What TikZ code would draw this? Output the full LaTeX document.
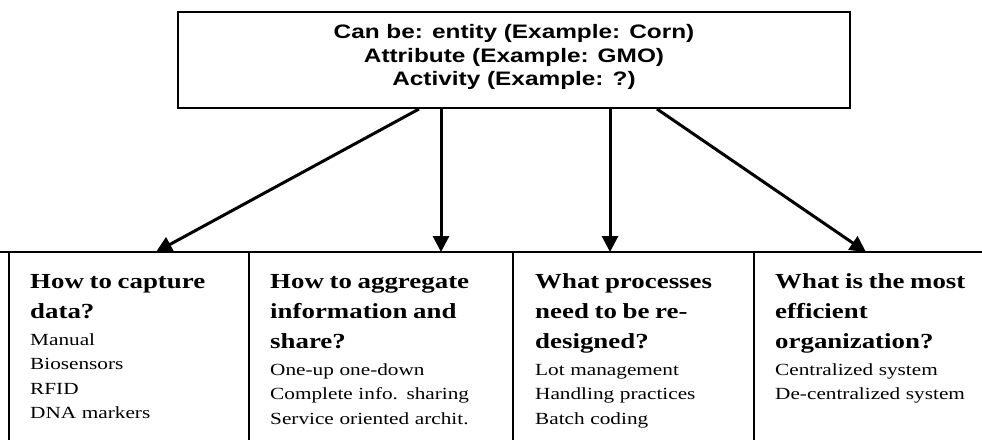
\documentclass[tikz,border=0pt]{standalone}
\usepackage{fontspec}
\setmainfont{Liberation Serif}[FakeStretch=1.25]
\newfontfamily\arialfont{Liberation Sans}[FakeStretch=1.25]
\usetikzlibrary{arrows.meta}

\newcommand{\colhead}[1]{{\bfseries\fontsize{21.5}{30}\selectfont #1\par}\vspace{2.5pt}}

\begin{document}
\begin{tikzpicture}[x=1pt,y=-1pt,>={Triangle[length=16pt,width=16pt]},
        top node/.style={draw,line width=2pt,minimum width=672pt,minimum height=96pt,align=center,
            text depth=10pt,font=\arialfont\bfseries\fontsize{19.5}{23.5}\selectfont},
        col node/.style={anchor=base west,inner sep=0pt,text width=230pt,align=left,
            font=\fontsize{17}{24.5}\selectfont}]

    \useasboundingbox (0,0) rectangle (982,439);

    \node[top node] (top) at (514,60) {Can be: entity (Example: Corn)\\ Attribute (Example: GMO)\\ Activity (Example: ?)};

    % table of the four questions
    \draw[line width=2.5pt] (0,252) -- (982,252);
    \foreach \x in {9,249,513,754}
        \draw[line width=2pt] (\x,252) -- (\x,450);

    \node[col node] (capture) at (30,288) {\colhead{How to capture\\ data?}Manual\\ Biosensors\\ RFID\\ DNA markers};
    \node[col node] (share) at (270,288) {\colhead{How to aggregate\\ information and\\ share?}One-up one-down\\ Complete info. sharing\\ Service oriented archit.};
    \node[col node] (process) at (535,288) {\colhead{What processes\\ need to be re-\\ designed?}Lot management\\ Handling practices\\ Batch coding};
    \node[col node] (organize) at (775,288) {\colhead{What is the most\\ efficient\\ organization?}Centralized system\\ De-centralized system};

    \coordinate (in1) at (156,252);
    \coordinate (in2) at (441,252);
    \coordinate (in3) at (610,252);
    \coordinate (in4) at (866,252);

    \path[->,line width=3pt]
    ([xshift=-95pt]top.south) edge (in1)
    ([xshift=-73pt]top.south) edge (in2)
    ([xshift=96pt]top.south) edge (in3)
    ([xshift=143pt]top.south) edge (in4);

\end{tikzpicture}
\end{document}
